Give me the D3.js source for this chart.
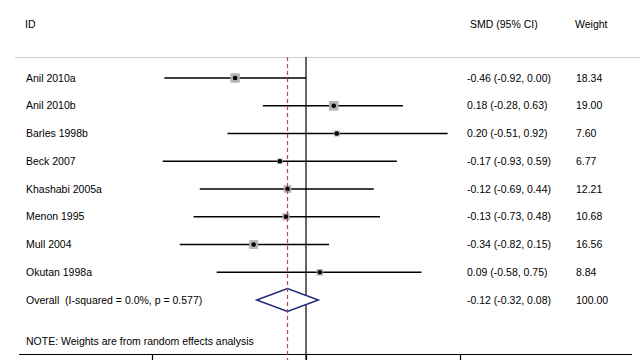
<!DOCTYPE html>
<html><head><meta charset="utf-8">
<script src="https://cdn.jsdelivr.net/npm/d3@7"></script>
<style>body{margin:0;background:#fff}svg{display:block}text{font-family:"Liberation Sans",Arial,sans-serif;font-size:10.5px;fill:#000;white-space:pre}</style>
</head><body><svg id="c" width="640" height="360"></svg>
<script>
const studies = ["Anil 2010a","Anil 2010b","Barles 1998b","Beck 2007","Khashabi 2005a","Menon 1995","Mull 2004","Okutan 1998a"];
const smd = [-0.46, 0.18, 0.20, -0.17, -0.12, -0.13, -0.34, 0.09];
const lower = [-0.92, -0.28, -0.51, -0.93, -0.69, -0.73, -0.82, -0.58];
const upper = [0.00, 0.63, 0.92, 0.59, 0.44, 0.48, 0.15, 0.75];
const weights = [18.34, 19.00, 7.60, 6.77, 12.21, 10.68, 16.56, 8.84];
const overall = {label:"Overall  (I-squared = 0.0%, p = 0.577)", est:-0.12, lo:-0.32, hi:0.08, w:100.00};
const xTicks = [-1, 0, 1];
const headers = ["ID", "SMD (95% CI)", "Weight"];
const note = "NOTE: Weights are from random effects analysis";

const svg = d3.select("#c");
const x = d3.scaleLinear().domain([-1, 1]).range([152, 460]);
const y = d3.scaleLinear().domain([0, 8]).range([78, 300]);
const f2 = v => d3.format(".2f")(v).replace("\u2212","-");
const ci = (e,l,h) => `${f2(e)} (${f2(l)}, ${f2(h)})`;
const side = d3.scaleSqrt().domain([0, 19]).range([0, 9.5]);

// header
svg.append("text").attr("x",25).attr("y",24).attr("dy","0.35em").text(headers[0]);
svg.append("text").attr("x",470).attr("y",24).attr("dy","0.35em").text(headers[1]);
svg.append("text").attr("x",575).attr("y",24).attr("dy","0.35em").text(headers[2]);
svg.append("line").attr("x1",15).attr("x2",640).attr("y1",57.5).attr("y2",57.5).attr("stroke","#cfcfcf").attr("stroke-width",1.2);

// zero line
svg.append("line").attr("x1",x(0)).attr("x2",x(0)).attr("y1",57).attr("y2",360).attr("stroke","#000").attr("stroke-width",1.2);

// axis
const ax = svg.append("g").attr("transform","translate(0,354.5)")
  .call(d3.axisBottom(x).tickValues(xTicks).tickSize(8).tickFormat(""));
ax.select(".domain").remove();
ax.selectAll(".tick line").attr("stroke","#000").attr("stroke-width",1.2);
svg.append("line").attr("x1",19).attr("x2",632).attr("y1",354.5).attr("y2",354.5).attr("stroke","#000").attr("stroke-width",1.2);

// rows
const rows = studies.map((s,i)=>({s, e:smd[i], l:lower[i], h:upper[i], w:weights[i], i}));
const g = svg.append("g");
g.selectAll("line.ci").data(rows).join("line").attr("class","ci")
  .attr("x1",d=>x(d.l)).attr("x2",d=>x(d.h)).attr("y1",d=>y(d.i)).attr("y2",d=>y(d.i))
  .attr("stroke","#000").attr("stroke-width",1.3);
g.selectAll("rect").data(rows).join("rect")
  .attr("x",d=>x(d.e)-side(d.w)/2).attr("y",d=>y(d.i)-side(d.w)/2)
  .attr("width",d=>side(d.w)).attr("height",d=>side(d.w)).attr("fill","#b4b4b4");
g.selectAll("circle").data(rows).join("circle")
  .attr("cx",d=>x(d.e)).attr("cy",d=>y(d.i)).attr("r",2.3).attr("fill","#000");
g.selectAll("text.id").data(rows).join("text").attr("class","id")
  .attr("x",26).attr("y",d=>y(d.i)).attr("dy","0.35em").text(d=>d.s);
g.selectAll("text.ci").data(rows).join("text").attr("class","ci")
  .attr("x",467).attr("y",d=>y(d.i)).attr("dy","0.35em").text(d=>ci(d.e,d.l,d.h));
g.selectAll("text.w").data(rows).join("text").attr("class","w")
  .attr("x",576).attr("y",d=>y(d.i)).attr("dy","0.35em").text(d=>f2(d.w));

// overall
const oy = y(8);
svg.append("path")
  .attr("d",`M${x(overall.lo)},${oy}L${x(overall.est)},${oy-11.5}L${x(overall.hi)},${oy}L${x(overall.est)},${oy+11.5}Z`)
  .attr("fill","#fff").attr("stroke","#1f2a7a").attr("stroke-width",1.5);
svg.append("text").attr("x",26).attr("y",oy).attr("dy","0.35em").text(overall.label);
svg.append("text").attr("x",467).attr("y",oy).attr("dy","0.35em").text(ci(overall.est,overall.lo,overall.hi));
svg.append("text").attr("x",576).attr("y",oy).attr("dy","0.35em").text(f2(overall.w));

// dashed overall line
svg.append("line").attr("x1",x(overall.est)).attr("x2",x(overall.est)).attr("y1",57).attr("y2",360)
  .attr("stroke","#b04848").attr("stroke-width",1.2).attr("stroke-dasharray","4,3");

svg.append("text").attr("x",26).attr("y",y(9.5)).attr("dy","0.35em").text(note);
</script></body></html>
